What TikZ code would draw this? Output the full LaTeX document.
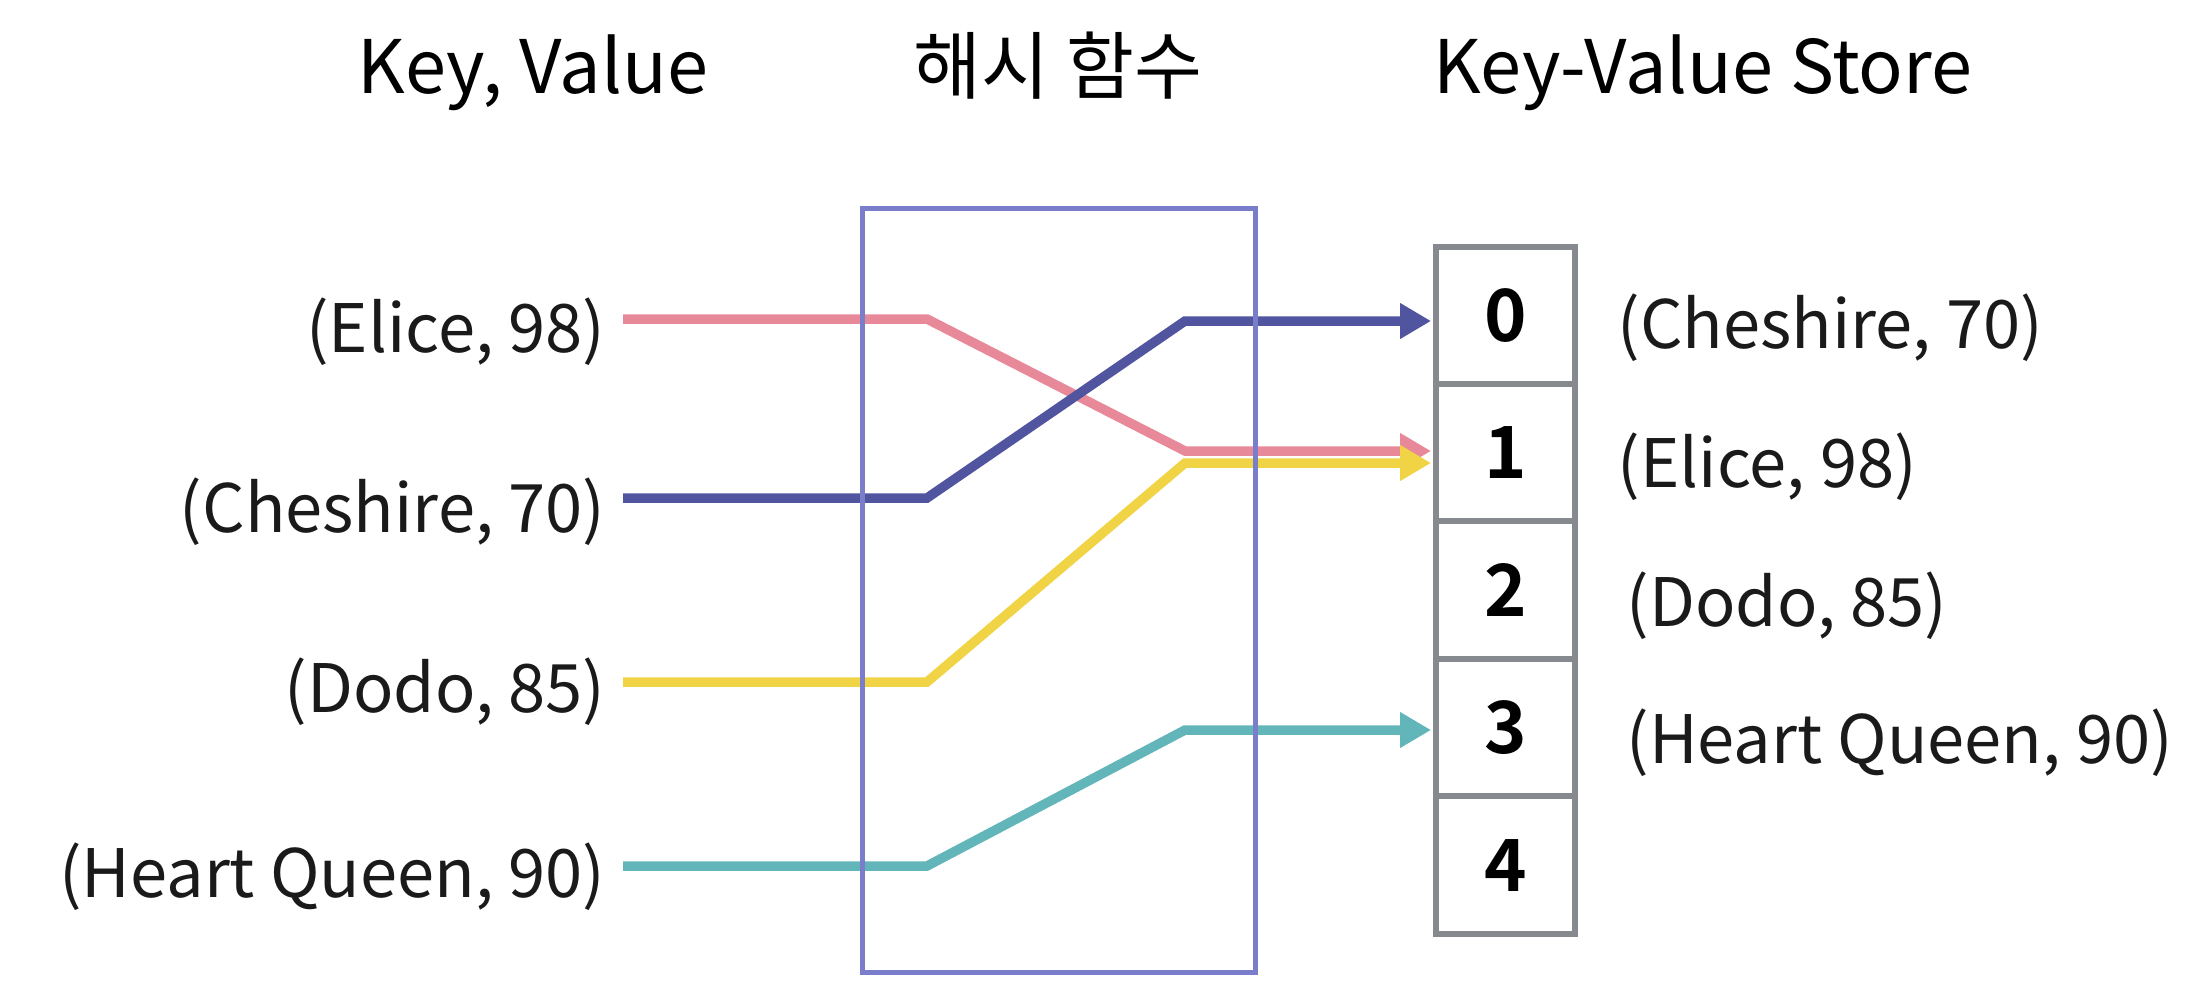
\documentclass[tikz,border=0pt]{standalone}
\usepackage{fontspec}
\setmainfont{Noto Sans CJK KR}
\newfontfamily\cellfont{Noto Sans CJK KR Bold}
\usetikzlibrary{arrows.meta}
\definecolor{hashblue}{RGB}{122,126,202}
\definecolor{storegray}{RGB}{134,137,141}
\definecolor{cpink}{RGB}{232,137,154}
\definecolor{cnavy}{RGB}{81,84,158}
\definecolor{cyellow}{RGB}{240,212,70}
\definecolor{cteal}{RGB}{98,182,186}
\definecolor{txt}{RGB}{26,26,26}
\tikzset{
  titletext/.style={anchor=base, inner sep=0pt, font=\fontsize{21}{25}\selectfont, text=black},
  lefttext/.style={anchor=east, inner sep=0pt, font=\fontsize{19}{23}\selectfont, text=txt},
  righttext/.style={anchor=west, inner sep=0pt, font=\fontsize{19}{23}\selectfont, text=txt},
  cellbox/.style={draw=storegray, line width=1.6pt, minimum width=1.39cm, minimum height=1.375cm, inner sep=0pt, font=\cellfont\fontsize{20.5}{24}\selectfont},
  hashbox/.style={draw=hashblue, line width=1.4pt, minimum width=3.92cm, minimum height=7.63cm, inner sep=0pt},
  conn/.style={line width=2.7pt, line join=miter, -{Triangle[length=8.8pt,width=9.6pt]}, shorten >=0.6pt},
}
\begin{document}
\begin{tikzpicture}[x=0.01cm, y=-0.01cm]
\useasboundingbox (0,0) rectangle (2186,1000);

% titles
\node[titletext] (t1) at (533,93) {Key, Value};
\node[titletext] (t2) at (1058,93) {해시 함수};
\node[titletext] (t3) at (1703,93) {Key-Value Store};

% left labels
\node[lefttext] (lE) at (606,332) {(Elice, 98)};
\node[lefttext] (lC) at (606,512) {(Cheshire, 70)};
\node[lefttext] (lD) at (606,692) {(Dodo, 85)};
\node[lefttext] (lH) at (606,877) {(Heart Queen, 90)};

% store cells
\node[cellbox] (c0) at (1505.5,315.5) {0};
\node[cellbox] (c1) at (1505.5,452.5) {1};
\node[cellbox] (c2) at (1505.5,590) {2};
\node[cellbox] (c3) at (1505.5,727.5) {3};
\node[cellbox] (c4) at (1505.5,865) {4};

% right labels
\node[righttext] (rC) at (1617,328) {(Cheshire, 70)};
\node[righttext] (rE) at (1617,467) {(Elice, 98)};
\node[righttext] (rD) at (1626,606) {(Dodo, 85)};
\node[righttext] (rH) at (1626,743) {(Heart Queen, 90)};

% connector start points and bends
\coordinate (sE) at (623,319);
\coordinate (sC) at (623,498);
\coordinate (sD) at (623,682);
\coordinate (sH) at (623,866);
\coordinate (bE) at (1185,451);
\coordinate (bC) at (1185,321);
\coordinate (bD) at (1185,463);
\coordinate (bH) at (1185,730);

\draw[conn, cpink] (sE) -- (927,319) -- (bE) -- (c1.west |- bE);
\draw[conn, cnavy] (sC) -- (927,498) -- (bC) -- (c0.west |- bC);
\draw[conn, cyellow] (sD) -- (927,682) -- (bD) -- (c1.west |- bD);
\draw[conn, cteal] (sH) -- (927,866) -- (bH) -- (c3.west |- bH);

% hash function box (drawn over the lines)
\node[hashbox] (hash) at (1059,590.5) {};
\end{tikzpicture}
\end{document}
